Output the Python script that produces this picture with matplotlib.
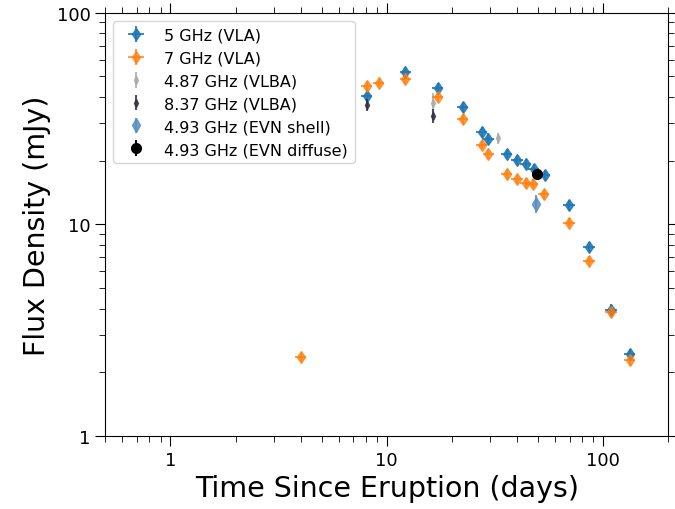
import matplotlib.pyplot as plt
import numpy as np

# 5 GHz (VLA)
t_vla5 = [8.1, 12.2, 17.2, 22.5, 27.5, 29.4, 35.9, 40.0, 44.0, 47.9, 53.8, 69.6, 86.1, 109, 133]
f_vla5 = [40.5, 52.6, 44.2, 35.9, 27.4, 25.4, 21.5, 20.2, 19.3, 18.3, 17.1, 12.4, 7.83, 3.95, 2.44]
e_vla5 = [2.5, 3.0, 2.5, 2.0, 1.5, 1.5, 1.2, 1.1, 1.0, 1.0, 0.9, 0.7, 0.45, 0.25, 0.15]

# 7 GHz (VLA)
t_vla7 = [4.0, 8.1, 9.2, 12.2, 17.2, 22.5, 27.5, 29.5, 35.9, 40.0, 44.0, 47.4, 53.3, 69.6, 86.1, 109, 133]
f_vla7 = [2.36, 45.2, 46.7, 48.7, 40.1, 31.5, 23.8, 21.5, 17.3, 16.4, 15.7, 15.6, 13.9, 10.2, 6.72, 3.86, 2.29]
e_vla7 = [0.12, 2.3, 2.3, 2.5, 2.0, 1.6, 1.2, 1.1, 0.9, 0.8, 0.8, 0.8, 0.7, 0.5, 0.35, 0.2, 0.12]

# 4.87 GHz (VLBA)
t_vlba487 = [8.1, 16.3, 32.6]
f_vlba487 = [41.0, 37.5, 25.6]
e_vlba487 = [3.0, 4.5, 1.5]

# 8.37 GHz (VLBA)
t_vlba837 = [8.1, 16.3]
f_vlba837 = [36.7, 32.6]
e_vlba837 = [2.5, 2.5]

# 4.93 GHz (EVN)
t_evn_shell = [49.0]
f_evn_shell = [12.5]
e_evn_shell = [1.2]
t_evn_diffuse = [49.5]
f_evn_diffuse = [17.3]
e_evn_diffuse = [0.8]

fig = plt.figure(figsize=(6.75, 5.1), dpi=100)
ax = fig.add_axes([0.156, 0.143, 0.834, 0.830])

ax.errorbar(t_vla5, f_vla5, yerr=e_vla5, xerr=np.array(t_vla5) * 0.06, fmt="d",
            color="C0", ms=6, alpha=0.85, label="5 GHz (VLA)", zorder=3)
ax.errorbar(t_vla7, f_vla7, yerr=e_vla7, xerr=np.array(t_vla7) * 0.06, fmt="d",
            color="C1", ms=6, alpha=0.75, label="7 GHz (VLA)", zorder=3)
ax.errorbar(t_vlba487, f_vlba487, yerr=e_vlba487, fmt="d", color="darkgray",
            ms=4, alpha=0.8, label="4.87 GHz (VLBA)", zorder=2)
ax.errorbar(t_vlba837, f_vlba837, yerr=e_vlba837, fmt="d", color="#333344",
            ms=4, alpha=0.85, label="8.37 GHz (VLBA)", zorder=4)
ax.errorbar(t_evn_shell, f_evn_shell, yerr=e_evn_shell, fmt="d", color="#5b8fc0",
            ms=7, alpha=0.85, label="4.93 GHz (EVN shell)", zorder=4)
ax.errorbar(t_evn_diffuse, f_evn_diffuse, yerr=e_evn_diffuse, fmt="o", color="black",
            ms=7, label="4.93 GHz (EVN diffuse)", zorder=5)

ax.set_xscale("log")
ax.set_yscale("log")
ax.set_xlim(0.5, 200)
ax.set_ylim(1, 100)
ax.set_xticks([1, 10, 100])
ax.set_xticklabels(["1", "10", "100"])
ax.set_yticks([1, 10, 100])
ax.set_yticklabels(["1", "10", "100"])
ax.tick_params(which="both", direction="out", top=True, right=True, labelsize=13)
ax.tick_params(which="major", length=7)
ax.tick_params(which="minor", length=4)

ax.set_xlabel("Time Since Eruption (days)", fontsize=20.5)
ax.set_ylabel("Flux Density (mJy)", fontsize=20.5)
ax.legend(loc="upper left", fontsize=11.5)

fig.savefig("out.png")
